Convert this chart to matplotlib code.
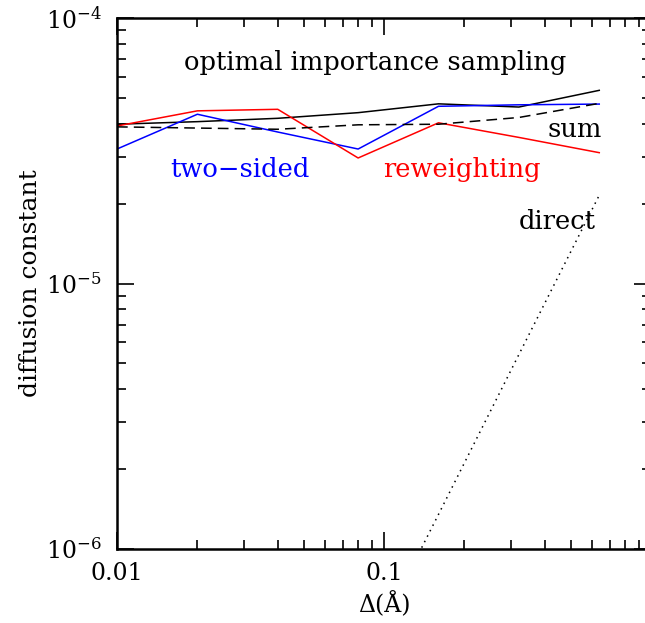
import matplotlib
matplotlib.use("Agg")
import matplotlib.pyplot as plt
import numpy as np

# step sizes (Angstrom)
delta = [0.01, 0.02, 0.04, 0.08, 0.16, 0.32, 0.64]

# diffusion constants
optimal = [3.98e-5, 4.07e-5, 4.19e-5, 4.40e-5, 4.75e-5, 4.62e-5, 5.34e-5]
two_sided = [3.21e-5, 4.34e-5, 3.72e-5, 3.21e-5, 4.65e-5, 4.71e-5, 4.74e-5]
reweighting = [3.92e-5, 4.47e-5, 4.53e-5, 2.97e-5, 4.03e-5, 3.55e-5, 3.11e-5]
sum_est = [3.89e-5, 3.85e-5, 3.81e-5, 3.96e-5, 3.98e-5, 4.22e-5, 4.77e-5]

delta_direct = [0.08, 0.16, 0.32, 0.64]
direct = [3.4e-7, 1.35e-6, 5.4e-6, 2.15e-5]

plt.rcParams['font.family'] = 'DejaVu Serif'
plt.rcParams['mathtext.fontset'] = 'dejavuserif'

fig = plt.figure(figsize=(6.45, 6.23), dpi=100)
# the original is cropped on the right, so the axes run past the edge
ax = fig.add_axes([117/645, 74/623, 534/645, 531/623])

ax.plot(delta, optimal, color='black', lw=1.1)
ax.plot(delta, two_sided, color='blue', lw=1.1)
ax.plot(delta, reweighting, color='red', lw=1.1)
ax.plot(delta, sum_est, color='black', lw=1.1, ls=(0, (7, 4)))
ax.plot(delta_direct, direct, color='black', lw=1.1, ls=(0, (1, 3)))

ax.set_xscale('log')
ax.set_yscale('log')
ax.set_xlim(0.01, 1.0)
ax.set_ylim(1e-6, 1e-4)

ax.set_xticks([0.01, 0.1])
ax.set_xticklabels(['0.01', '0.1'])
ax.set_yticks([1e-6, 1e-5, 1e-4])
ax.set_yticklabels([r'$10^{-6}$', r'$10^{-5}$', r'$10^{-4}$'])

ax.tick_params(which='both', direction='in', top=True, right=True,
               labelsize=17, pad=9)
ax.tick_params(which='major', length=12, width=1.2)
ax.tick_params(which='minor', length=6.5, width=1.2)
ax.tick_params(axis='y', pad=11)
for s in ax.spines.values():
    s.set_linewidth(1.8)

ax.set_xlabel('Δ(Å)', fontsize=17, labelpad=5)
ax.set_ylabel('diffusion constant', fontsize=18, labelpad=3)

fs = 18.5
ax.text(0.0924, 6.77e-5, 'optimal importance sampling', fontsize=fs,
        ha='center', va='center', color='black')
ax.text(0.519, 3.79e-5, 'sum', fontsize=fs, ha='center', va='center')
ax.text(0.0289, 2.68e-5, 'two\u2212sided', fontsize=fs, ha='center',
        va='center', color='blue')
ax.text(0.196, 2.68e-5, 'reweighting', fontsize=fs, ha='center',
        va='center', color='red')
ax.text(0.445, 1.71e-5, 'direct', fontsize=fs, ha='center', va='center')

fig.savefig('out.png', dpi=100)
